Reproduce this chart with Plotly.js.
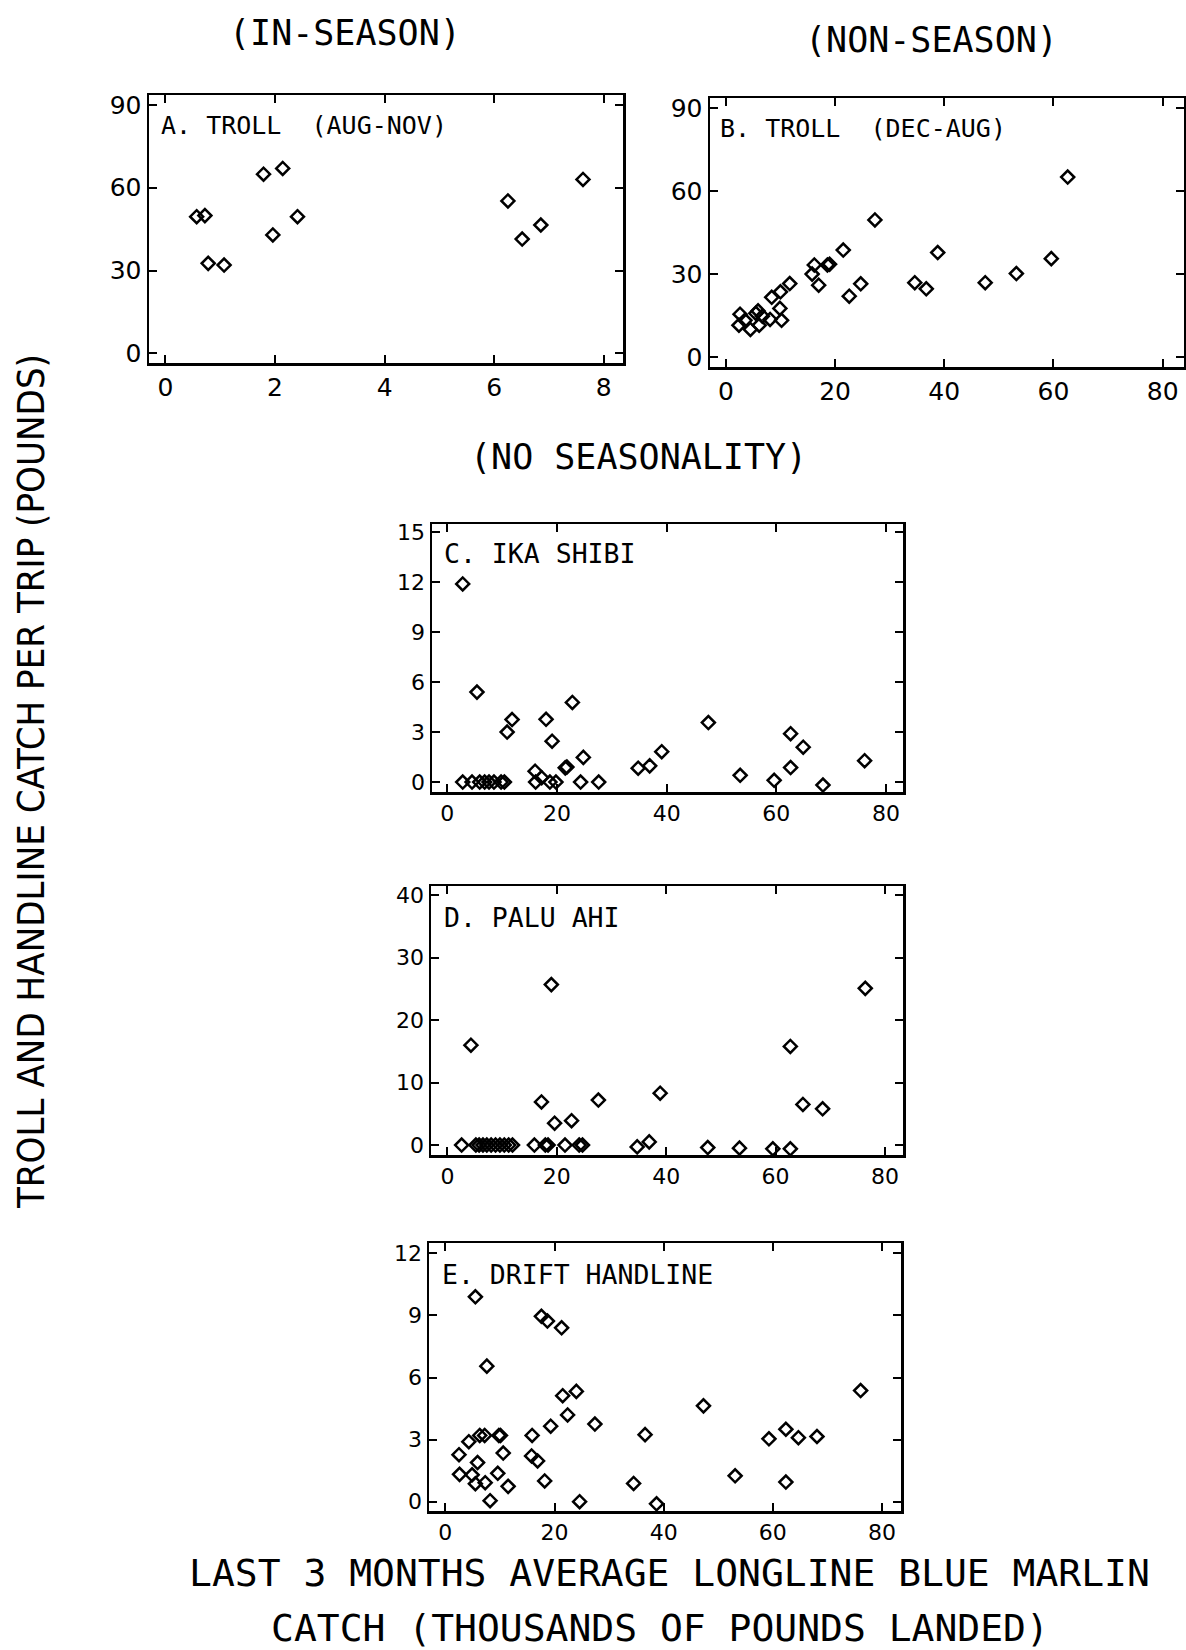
<!DOCTYPE html>
<html>
<head>
<meta charset="utf-8">
<script src="https://cdn.plot.ly/plotly-3.0.1.min.js"></script>
<style>
  html, body { margin: 0; padding: 0; background: #fff; }
  #chart { width: 1186px; height: 1650px; }
</style>
</head>
<body>
<div id="chart"></div>
<script>
// ---------- DATA ----------
// Panel A: Troll (Aug-Nov), in-season
const aX = [0.57, 0.72, 0.78, 1.07, 1.79, 1.96, 2.14, 2.41, 6.25, 6.51, 6.85, 7.62];
const aY = [49.5, 49.9, 32.6, 32.0, 64.9, 42.9, 67.0, 49.5, 55.2, 41.4, 46.5, 63.0];

// Panel B: Troll (Dec-Aug), non-season
const bX = [2.4, 2.6, 3.5, 4.5, 5.5, 5.9, 6.1, 6.7, 8.1, 8.4, 9.9, 10.0, 10.2, 11.7, 15.8, 16.2, 17.0, 18.6, 19.0, 21.5, 22.6, 24.7, 27.3, 34.6, 36.7, 38.8, 47.5, 53.2, 59.6, 62.6];
const bY = [11.5, 15.5, 13.3, 10.0, 15.8, 16.7, 11.5, 14.8, 13.6, 21.6, 17.6, 23.6, 13.3, 26.6, 30.0, 33.3, 26.0, 33.3, 33.6, 38.7, 22.0, 26.5, 49.6, 26.9, 24.7, 37.8, 26.9, 30.2, 35.6, 65.1];

// Panel C: Ika shibi
const cX = [2.8, 2.8, 4.5, 5.4, 5.9, 6.8, 7.6, 8.5, 9.8, 10.4, 10.9, 11.8, 16.0, 16.1, 17.2, 18.0, 18.7, 19.1, 19.8, 21.5, 21.8, 22.8, 24.3, 24.8, 27.6, 34.8, 36.9, 39.1, 47.6, 53.4, 59.6, 62.6, 62.6, 64.9, 68.5, 76.1];
const cY = [11.9, 0, 0, 5.4, 0, 0, 0, 0, 0, 0, 3.0, 3.75, 0.65, 0, 0.26, 3.77, 0, 2.45, 0, 0.85, 0.9, 4.78, 0, 1.48, 0, 0.83, 0.97, 1.82, 3.57, 0.4, 0.1, 2.9, 0.87, 2.09, -0.18, 1.28];

// Panel D: Palu ahi
const dX = [2.6, 4.3, 5.2, 5.8, 6.5, 7.2, 8.0, 8.8, 9.6, 10.4, 11.2, 11.9, 15.9, 17.2, 17.9, 18.4, 19.0, 19.6, 21.5, 22.7, 24.1, 24.7, 27.6, 34.7, 36.9, 38.9, 47.6, 53.4, 59.5, 62.7, 62.7, 65.0, 68.6, 76.4];
const dY = [0, 16.0, 0, 0, 0, 0, 0, 0, 0, 0, 0, 0, 0, 6.9, 0, 0, 25.7, 3.5, 0, 3.9, 0, 0, 7.2, -0.3, 0.5, 8.3, -0.4, -0.5, -0.6, 15.8, -0.6, 6.5, 5.8, 25.1];

// Panel E: Drift handline
const eX = [2.5, 2.6, 4.3, 4.9, 5.5, 5.5, 5.9, 6.3, 7.2, 7.3, 7.6, 8.2, 9.6, 9.8, 10.1, 10.6, 11.5, 15.9, 15.8, 16.9, 17.6, 18.2, 18.7, 19.3, 21.3, 21.5, 22.4, 24.0, 24.6, 27.4, 34.5, 36.6, 38.7, 47.3, 53.1, 59.3, 62.4, 62.4, 64.7, 68.1, 76.1];
const eY = [2.27, 1.32, 2.9, 1.3, 9.9, 0.87, 1.89, 3.2, 3.2, 0.92, 6.55, 0.05, 1.37, 3.2, 3.2, 2.35, 0.74, 3.2, 2.21, 1.97, 8.96, 1.0, 8.73, 3.65, 8.4, 5.12, 4.19, 5.33, 0.0, 3.75, 0.88, 3.24, -0.1, 4.63, 1.25, 3.04, 3.5, 0.95, 3.09, 3.15, 5.37];

// Text
const panelLabels = ["A. TROLL  (AUG-NOV)", "B. TROLL  (DEC-AUG)", "C. IKA SHIBI", "D. PALU AHI", "E. DRIFT HANDLINE"];
const groupTitles = ["(IN-SEASON)", "(NON-SEASON)", "(NO SEASONALITY)"];
const xTitleLines = ["LAST 3 MONTHS AVERAGE LONGLINE BLUE MARLIN", "CATCH (THOUSANDS OF POUNDS LANDED)"];
const yTitle = "TROLL AND HANDLINE CATCH PER TRIP (POUNDS)";

// ---------- LAYOUT HELPERS ----------
const W = 1186, H = 1650;
const px = v => v / W;
const py = v => 1 - v / H;

const MONO = "DejaVu Sans Mono, Liberation Mono, monospace";
const TICKF = "DejaVu Sans, Liberation Sans, sans-serif";

function mk(x, y, xa, ya) {
  return {
    x: x, y: y, xaxis: xa, yaxis: ya, type: 'scatter', mode: 'markers',
    marker: { symbol: 'diamond-open', size: 10, color: '#000', line: { width: 2.5, color: '#000' } },
    hoverinfo: 'x+y', showlegend: false
  };
}

function axis(domain, range, dtick, anchor, fsize) {
  return {
    domain: domain, range: range, dtick: dtick, tick0: 0, anchor: anchor,
    showgrid: false, zeroline: false, showline: true, linecolor: '#000', linewidth: 2.5,
    mirror: 'ticks', ticks: 'inside', ticklen: 8, tickwidth: 2, tickcolor: '#000',
    tickfont: { family: TICKF, size: fsize, color: '#000' }
  };
}

const traces = [
  mk(aX, aY, 'x', 'y'),
  mk(bX, bY, 'x2', 'y2'),
  mk(cX, cY, 'x3', 'y3'),
  mk(dX, dY, 'x4', 'y4'),
  mk(eX, eY, 'x5', 'y5')
];

function ann(text, xp, yp, size, family, opts) {
  return Object.assign({
    text: text, x: px(xp), y: py(yp), xref: 'paper', yref: 'paper',
    showarrow: false, xanchor: 'center', yanchor: 'middle',
    font: { family: family, size: size, color: '#000' }
  }, opts || {});
}

const layout = {
  width: W, height: H,
  margin: { l: 0, r: 0, t: 0, b: 0 },
  paper_bgcolor: '#fff', plot_bgcolor: '#fff',
  showlegend: false,
  xaxis:  axis([px(149), px(623)], [-0.3, 8.35], 2, 'y', 25),
  yaxis:  axis([py(363), py(95)], [-3.5, 93.6], 30, 'x', 25),
  xaxis2: axis([px(710), px(1184)], [-2.9, 83.9], 20, 'y2', 25),
  yaxis2: axis([py(367), py(98)], [-3.6, 93.7], 30, 'x2', 25),
  xaxis3: axis([px(432), px(903)], [-2.8, 83.1], 20, 'y3', 22),
  yaxis3: axis([py(792), py(524)], [-0.6, 15.5], 3, 'x3', 22),
  xaxis4: axis([px(431), px(903)], [-3.0, 83.3], 20, 'y4', 22),
  yaxis4: axis([py(1155), py(886)], [-1.6, 41.5], 10, 'x4', 22),
  xaxis5: axis([px(429), px(901)], [-3.0, 83.5], 20, 'y5', 22),
  yaxis5: axis([py(1511), py(1243)], [-0.45, 12.5], 3, 'x5', 22),
  annotations: [
    ann(panelLabels[0], 159, 125, 25, MONO, { xanchor: 'left' }),
    ann(panelLabels[1], 718, 129, 25, MONO, { xanchor: 'left' }),
    ann(panelLabels[2], 442, 554, 26.5, MONO, { xanchor: 'left' }),
    ann(panelLabels[3], 442, 917, 26.5, MONO, { xanchor: 'left' }),
    ann(panelLabels[4], 440, 1274, 26.5, MONO, { xanchor: 'left' }),
    ann(groupTitles[0], 345, 33, 35, MONO),
    ann(groupTitles[1], 931, 40, 35, MONO),
    ann(groupTitles[2], 638, 457, 35, MONO),
    ann(xTitleLines[0], 669, 1573, 38, MONO),
    ann(xTitleLines[1], 660, 1628, 38, MONO),
    ann(yTitle, 31, 782, 38, "Liberation Sans Narrow, DejaVu Sans Condensed, Arial Narrow, sans-serif", { textangle: -90 })
  ]
};

Plotly.newPlot('chart', traces, layout, { displayModeBar: false, staticPlot: true });
</script>
</body>
</html>
